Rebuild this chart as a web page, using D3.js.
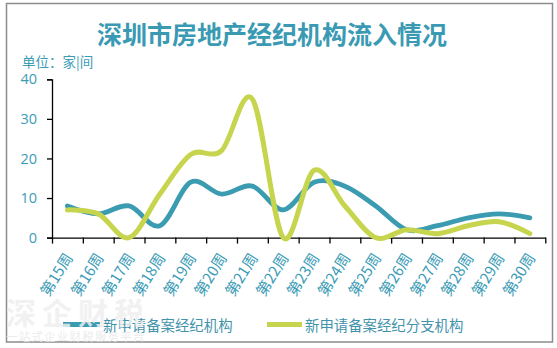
<!DOCTYPE html>
<html>
<head>
<meta charset="utf-8">
<script src="https://cdn.jsdelivr.net/npm/d3@7"></script>
<style>
  html, body { margin: 0; padding: 0; background: #fff; }
  svg { display: block; }
</style>
</head>
<body>
<svg id="chart" width="557" height="348"></svg>
<script>
// Weekly inflow of real-estate agencies in Shenzhen (units: 家 / 间)
const weeks = ["第15周","第16周","第17周","第18周","第19周","第20周","第21周","第22周",
               "第23周","第24周","第25周","第26周","第27周","第28周","第29周","第30周"];
const agencyNew = [8, 6, 8, 3, 14, 11, 13, 7, 14, 13, 8, 2, 3, 5, 6, 5];
const branchNew = [7, 6, 0, 11, 21, 22, 35, 0, 17, 8, 0, 2, 1, 3, 4, 1];
const yTicks = [0, 10, 20, 30, 40];
const seriesNames = ["新申请备案经纪机构", "新申请备案经纪分支机构"];

const title = "深圳市房地产经纪机构流入情况";
const unitLabel = "单位：家|间";

const BLUE = "#3b9bb1";
const GREEN = "#c6d54d";
const TEXT = "#3c9cb6";
const CJK = "'Noto Sans CJK SC', 'Noto Sans', sans-serif";

const svg = d3.select("#chart");

// outer frame
svg.append("rect")
  .attr("x", 6.5).attr("y", 3.5)
  .attr("width", 546).attr("height", 338.5)
  .attr("fill", "#fff")
  .attr("stroke", "#8c8c8c").attr("stroke-width", 1.5);

// title and unit
svg.append("text")
  .attr("x", 272).attr("y", 44)
  .attr("text-anchor", "middle")
  .attr("font-family", CJK).attr("font-weight", "bold")
  .attr("font-size", 25).attr("fill", "#3a9ab3")
  .text(title);

svg.append("text")
  .attr("x", 22).attr("y", 66.5)
  .attr("font-family", CJK).attr("font-size", 13.5)
  .attr("fill", TEXT)
  .text(unitLabel);

// plot area
const plotLeft = 52, plotRight = 545.3, plotTop = 79.3, plotBottom = 237.6;
const x = d3.scaleBand().domain(weeks).range([plotLeft, plotRight]).padding(0);
const xEdges = d3.scaleLinear().domain([0, weeks.length]).range([plotLeft, plotRight]);
const y = d3.scaleLinear().domain([0, 40]).range([plotBottom, plotTop]);
const cx = d => x(d) + x.bandwidth() / 2;

// y axis
const yAxis = svg.append("g")
  .attr("transform", `translate(${plotLeft},0)`)
  .call(d3.axisLeft(y).tickValues(yTicks).tickSize(5).tickPadding(10));
yAxis.select(".domain").attr("stroke", "#000").attr("stroke-width", 1.3);
yAxis.selectAll(".tick line").attr("stroke", "#000").attr("stroke-width", 1.3);
yAxis.selectAll(".tick text")
  .attr("font-family", "'Open Sans', 'Noto Sans', sans-serif")
  .attr("font-size", 14.5).attr("fill", TEXT);

// x axis: ticks on band edges
const xAxis = svg.append("g")
  .attr("transform", `translate(0,${plotBottom})`)
  .call(d3.axisBottom(xEdges).tickValues(d3.range(weeks.length + 1))
    .tickSize(6).tickSizeOuter(0).tickFormat(""));
xAxis.select(".domain").attr("stroke", "#000").attr("stroke-width", 1.3);
xAxis.selectAll(".tick line").attr("stroke", "#000").attr("stroke-width", 1.3);

// rotated week labels at band centres
svg.append("g").selectAll("text")
  .data(weeks).join("text")
  .attr("transform", d => `translate(${cx(d) + 6},${plotBottom + 20}) rotate(-58)`)
  .attr("text-anchor", "end")
  .attr("font-family", CJK).attr("font-size", 15)
  .attr("fill", TEXT)
  .text(d => d);

// smoothed series lines
const line = d3.line()
  .x((d, i) => cx(weeks[i]))
  .y(d => y(d))
  .curve(d3.curveCardinal.tension(0));

svg.append("path")
  .attr("d", line(agencyNew))
  .attr("fill", "none").attr("stroke", BLUE)
  .attr("stroke-width", 4.8).attr("stroke-linecap", "round");

svg.append("path")
  .attr("d", line(branchNew))
  .attr("fill", "none").attr("stroke", GREEN)
  .attr("stroke-width", 5).attr("stroke-linecap", "round");

// legend
const legend = [
  { name: seriesNames[0], color: BLUE, x0: 63, x1: 100, tx: 103 },
  { name: seriesNames[1], color: GREEN, x0: 267, x1: 302, tx: 305 }
];
const lg = svg.append("g");
legend.forEach(l => {
  lg.append("line")
    .attr("x1", l.x0).attr("x2", l.x1)
    .attr("y1", 324.5).attr("y2", 324.5)
    .attr("stroke", l.color).attr("stroke-width", 5);
  lg.append("text")
    .attr("x", l.tx).attr("y", 330.5)
    .attr("font-family", CJK).attr("font-size", 14.4)
    .attr("fill", "#4393ab")
    .text(l.name);
});

// faint brand mark in the lower-left corner
svg.append("text")
  .attr("x", 6).attr("y", 324)
  .attr("font-family", CJK).attr("font-weight", "bold")
  .attr("font-size", 30).attr("letter-spacing", 6)
  .attr("fill", "#efefef").attr("fill-opacity", 0.85)
  .text("深企财税");
svg.append("text")
  .attr("x", 6).attr("y", 341)
  .attr("font-family", CJK)
  .attr("font-size", 11.5).attr("letter-spacing", 1.2)
  .attr("fill", "#e8e8e8").attr("fill-opacity", 0.85)
  .text("一站式企业财税服务平台");
</script>
</body>
</html>
